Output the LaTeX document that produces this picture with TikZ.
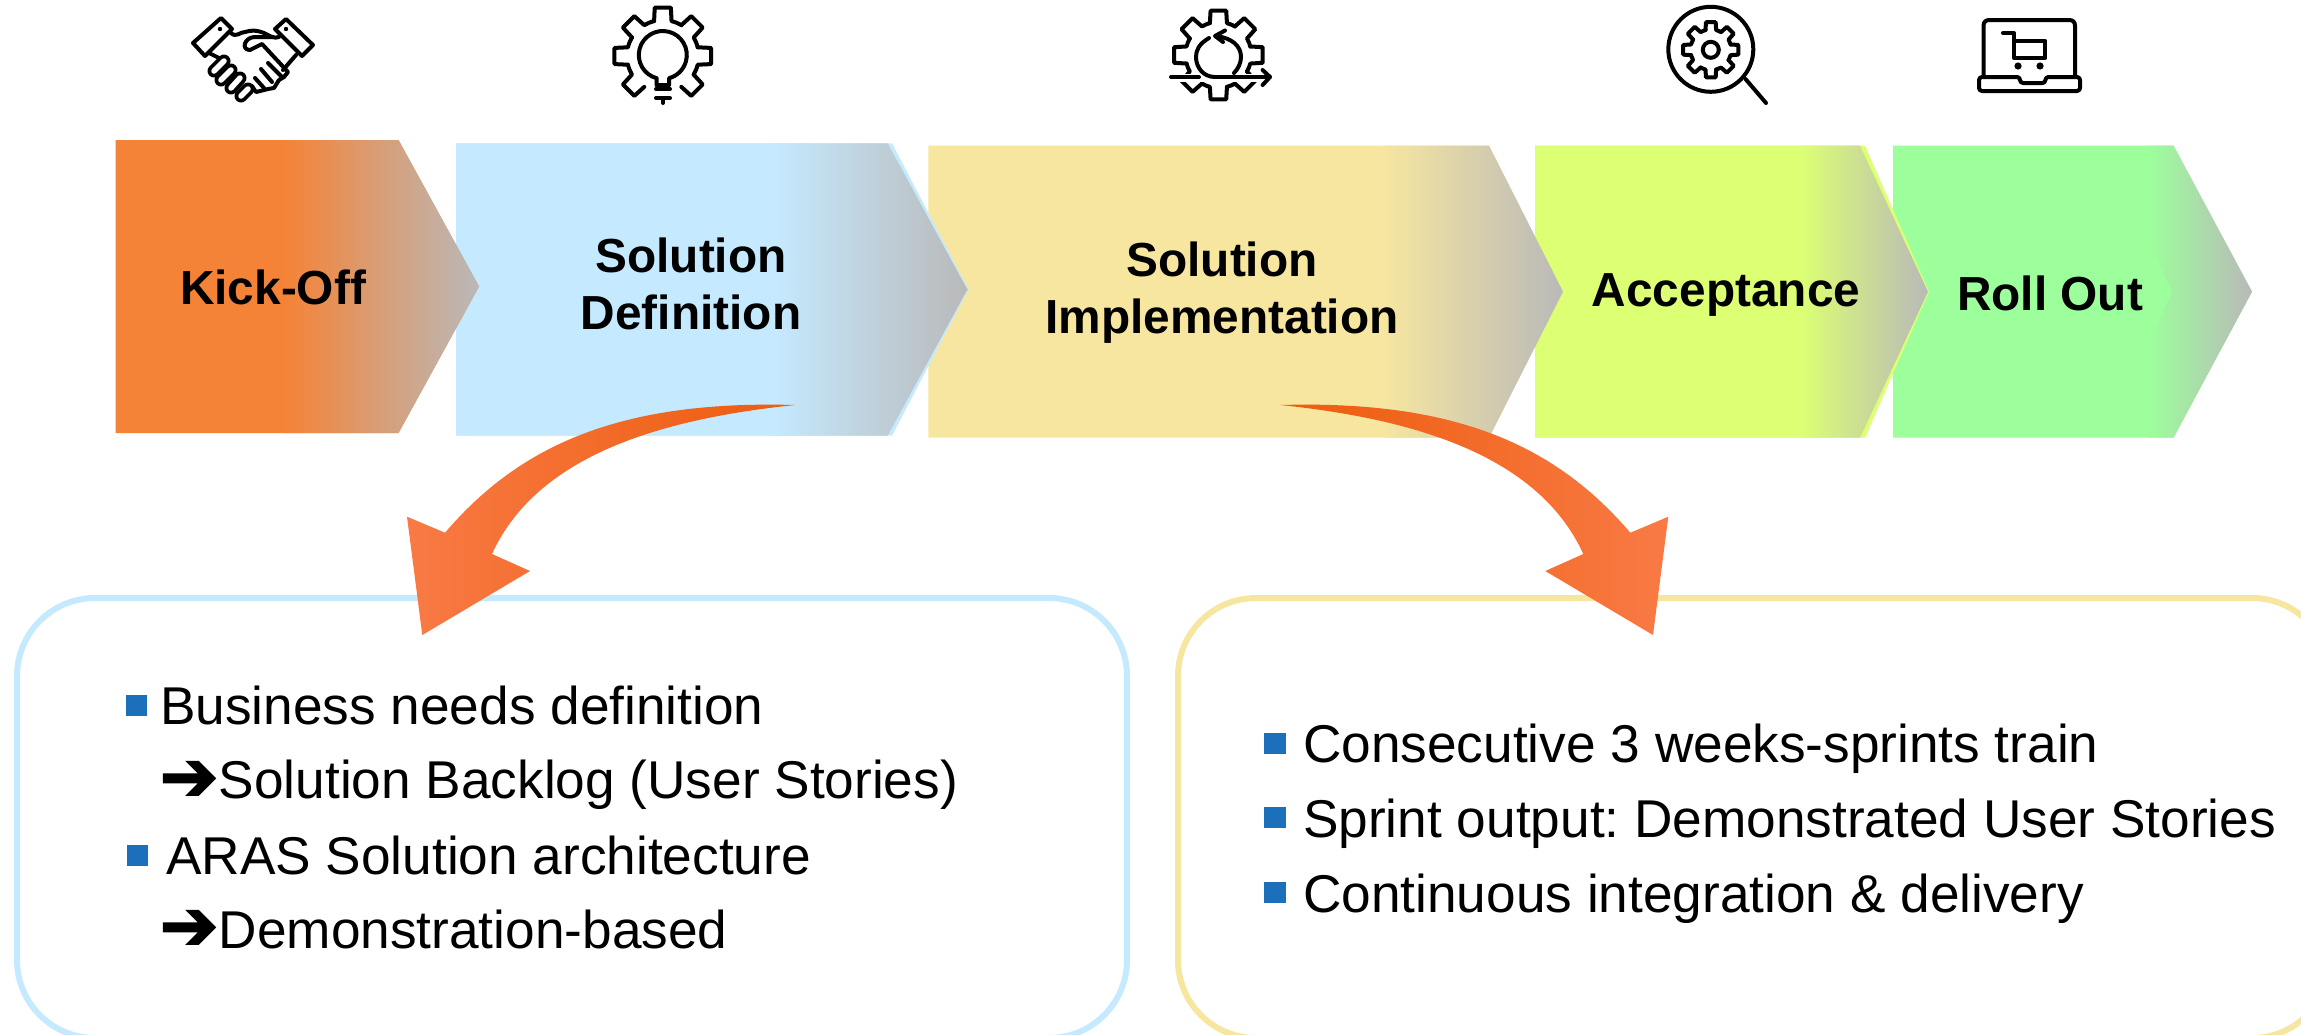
\documentclass[tikz,border=0pt]{standalone}
\usepackage{fontspec}
\setmainfont{Liberation Sans}
\newfontfamily\dejavu[FakeBold=2.5]{DejaVu Sans}
\frenchspacing
\definecolor{cOrange}{HTML}{F58337}
\definecolor{cBlue}{HTML}{C5EAFF}
\definecolor{cYellow}{HTML}{F7E6A0}
\definecolor{cLime}{HTML}{DCFF73}
\definecolor{cGreen}{HTML}{9CFF9B}
\definecolor{cTip}{HTML}{B9B9B9}
\definecolor{cBullet}{HTML}{1C6FBA}
\definecolor{cArrowA}{HTML}{F97A45}
\definecolor{cArrowB}{HTML}{FF6A1C}
\definecolor{cArrowC}{HTML}{EC5C0C}
\tikzset{
  stagelabel/.style={font=\fontsize{47.8}{57.2}\selectfont\bfseries,inner sep=0pt,anchor=base,align=center,text=black},
  bodytext/.style={font=\fontsize{53.2}{60}\selectfont,inner sep=0pt,anchor=base west,text=black},
  arrowmark/.style={font=\dejavu\fontsize{70}{80}\selectfont,inner sep=0pt,anchor=center,text=black},
  bullet/.style={fill=cBullet,draw=none},
  panel/.style={draw=#1,line width=6pt,rounded corners=78pt,inner sep=0pt,fill=white},
  icon/.style={draw=black,line width=4pt,line cap=round,line join=round},
}
% chevron: x-left, x-shoulder, x-tip, y-top, y-bottom, colour, gradient start
\newcommand{\stagechev}[7]{%
  \fill[#6] (#1,#4) -- (#2,#4) -- (#3,{(#4+#5)/2}) -- (#2,#5) -- (#1,#5) -- cycle;
  \begin{scope}
    \clip (#1,#4) -- (#2,#4) -- (#3,{(#4+#5)/2}) -- (#2,#5) -- (#1,#5) -- cycle;
    \shade[left color=#6,right color=cTip] (#7,#4) rectangle (#3,#5);
  \end{scope}}
% gear teeth: cx cy Rout Rin list dOut dIn arcspan
\newcommand{\gearpart}[8]{%
  \begin{scope}[shift={(#1,#2)}]
    \foreach \a in {#5}{%
      \draw[icon] ({\a-#7}:#4) -- ({\a-#6}:#3) -- ({\a+#6}:#3) -- ({\a+#7}:#4)
        arc[start angle=\a+#7,end angle=\a+#8-#7,radius=#4];}
  \end{scope}}
\begin{document}
\begin{tikzpicture}[x=1pt,y=-1pt]
\useasboundingbox (0,0) rectangle (2301,1034);
% stages, right to left so each tip lies on the next stage
\stagechev{1893}{2173.5}{2252}{145.7}{437.7}{cGreen}{2148}
\fill[cGreen] (2148,240) -- (2172,292) -- (2148,344) -- cycle;
\fill[cLime] (1535,145.7) -- (1865,145.7) -- (1929,291.7) -- (1865,437.7) -- (1535,437.7) -- cycle;
\stagechev{1535}{1860}{1928}{145.7}{437.7}{cLime}{1801}
\stagechev{928.4}{1489}{1563}{145.7}{437.7}{cYellow}{1383}
\fill[cBlue] (456,143.3) -- (892,143.3) -- (968.5,289.5) -- (892,435.7) -- (456,435.7) -- cycle;
\stagechev{456}{887.6}{967.4}{143.3}{435.7}{cBlue}{772}
\stagechev{115.5}{398.5}{479}{140}{433}{cOrange}{284}
% panels
\node[panel=cBlue,minimum width=1110pt,minimum height=440pt] (panelL) at (572,818) {};
\node[panel=cYellow,minimum width=1152pt,minimum height=440pt] (panelR) at (1754,818) {};
% curved block arrows
\shade[left color=cArrowA,middle color=cArrowB,right color=cArrowC]
  (795,405) .. controls (650,420) and (535,460) .. (492,554) -- (530,571) -- (422.3,635) -- (407,516.7) -- (445,532.7)
  .. controls (520,445) and (620,400) .. (795,405) -- cycle;
\shade[left color=cArrowC,middle color=cArrowB,right color=cArrowA]
  (1280.3,405) .. controls (1425.3,420) and (1540.3,460) .. (1583.3,554) -- (1545.3,571) -- (1653,635) -- (1668.3,516.7) -- (1630.3,532.7)
  .. controls (1555.3,445) and (1455.3,400) .. (1280.3,405) -- cycle;
% stage labels
\node[stagelabel] (kick) at (273,304.3) {Kick-Off};
\node[stagelabel] (def) at (691,329.3) {Solution\\Definition};
\node[stagelabel] (impl) at (1222,333.3) {Solution\\Implementation};
\node[stagelabel] (acc) at (1726,306.7) {Acceptance};
\node[stagelabel] (roll) at (2050,310) {Roll Out};
% left panel text
\fill[bullet] (126,695) rectangle (147,716);
\node[bodytext] (l1) at (160,724) {Business needs definition};
\node[arrowmark] (a1) at (189,781) {➔};
\node[bodytext] (l2) at (218.6,798) {Solution Backlog (User Stories)};
\fill[bullet] (127,845) rectangle (148,866);
\node[bodytext] (l3) at (166,874) {ARAS Solution architecture};
\node[arrowmark] (a2) at (189,930) {➔};
\node[bodytext] (l4) at (218.6,948) {Demonstration-based};
% right panel text
\fill[bullet] (1264,733) rectangle (1286,754);
\node[bodytext] (r1) at (1303,762) {Consecutive 3 weeks-sprints train};
\fill[bullet] (1264,807) rectangle (1286,828);
\node[bodytext] (r2) at (1303,837) {Sprint output: Demonstrated User Stories};
\fill[bullet] (1264,882) rectangle (1286,903);
\node[bodytext] (r3) at (1303,912) {Continuous integration \& delivery};
% handshake icon
\draw[icon] (221,18) -- (232,29) -- (205,56) -- (193,43) -- cycle;
\draw[icon] (286,19) -- (313,45) -- (302,56) -- (275,29) -- cycle;
\fill (220,29) circle (2.2);
\fill (286,29) circle (2.2);
\draw[icon] (231,33) .. controls (236,38) and (240,32) .. (245,32) .. controls (252,30) and (256,30) .. (264,33) .. controls (270,36) and (274,39) .. (279,37);
\draw[icon] (272,37) -- (254,37) .. controls (244,38) and (241,50) .. (250,50) -- (262,44) -- (288,72) -- (284,77) -- (279,80) -- (274,88) -- (268,89) -- (256,92) -- (252,86);
\draw[icon] (296,55) -- (283,70);
\draw[icon] (209,53) -- (219,58);
\draw[icon] (268,63) -- (282,77);
\draw[icon] (261,69) -- (272,82);
\draw[icon] (255,78) -- (264,88);
\foreach \px/\py/\qx/\qy in {214/71/224/61, 221/80/231/70, 231/88/240/78, 241/96/248/89}{
  \draw[line width=13pt,line cap=round,black] (\px,\py) -- (\qx,\qy);
  \draw[line width=5.5pt,line cap=round,white] (\px,\py) -- (\qx,\qy);
}
% gear-bulb icon
\gearpart{662.8}{56}{49}{36}{135,180,225,270,315,0}{9.5}{14}{45}
\gearpart{662.8}{56}{49}{36}{45}{9.5}{14}{28}
\draw[icon] (662.8,55) ++(105:24) arc[start angle=105,end angle=435,radius=24] -- ++(0,7) -- ++(-12.4,0) -- ++(0,-7);
\draw[icon] (656,89) -- (670,89);
\draw[icon] (656,98) -- (670,98);
\draw[icon] (663,98) -- (663,103);
% gear-cycle icon
\gearpart{1218.4}{55}{45}{33}{0,45,90,135,180,225,270,315}{10}{15}{45}
\fill[white] (1165,73.5) rectangle (1280,81.5);
\draw[icon] (1171,77) -- (1199,77);
\draw[icon] (1215,77) -- (1270,77);
\draw[icon] (1262.6,70) -- (1270,77) -- (1262.6,85);
\draw[icon] (1209,38) .. controls (1199,44) and (1196,50) .. (1196,57) .. controls (1196,67) and (1203,77) .. (1215,77);
\draw[icon] (1216,36) .. controls (1232,38) and (1241,46) .. (1241,57) .. controls (1241,63) and (1238,69) .. (1234,73);
\draw[icon] (1225,30.5) -- (1215,36) -- (1223,42);
% magnifier icon
\draw[icon] (1710.8,49.3) circle (42.5);
\gearpart{1710.8}{49.8}{28}{20.5}{0,45,90,135,180,225,270,315}{10}{15}{45}
\draw[icon] (1710.8,49.8) circle (8);
\draw[icon] (1745.5,79) -- (1766,103);
% laptop cart icon
\draw[icon] (1983.5,77) -- (1983.5,26) .. controls (1983.5,22) and (1985.5,20) .. (1989.5,20) -- (2069,20) .. controls (2073,20) and (2075,22) .. (2075,26) -- (2075,77);
\draw[icon,rounded corners=3pt] (1979,77) -- (2020,77) -- (2020,83) -- (2045.4,83) -- (2045.4,77) -- (2080,77) -- (2080,91) -- (1979,91) -- cycle;
\draw[icon] (2003,33) -- (2014,33) -- (2014,58) -- (2045.4,58) -- (2045.4,41) -- (2014,41);
\fill (2018,66) circle (3.6);
\fill (2040,66) circle (3.6);
\end{tikzpicture}
\end{document}
